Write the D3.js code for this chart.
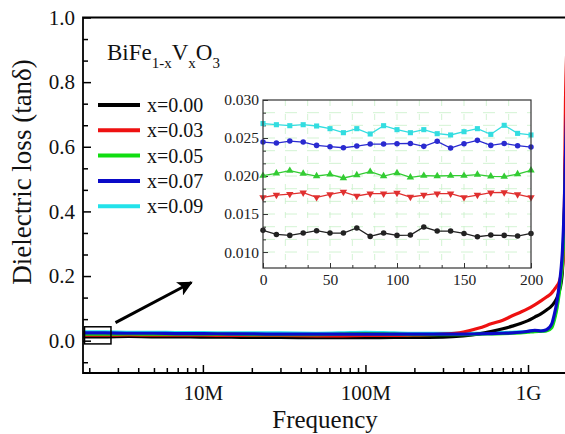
<!DOCTYPE html>
<html>
<head>
<meta charset="utf-8">
<script src="https://cdn.jsdelivr.net/npm/d3@7"></script>
<style>
  html, body { margin: 0; padding: 0; background: #ffffff; }
  svg { display: block; }
  svg text { font-family: "Liberation Serif", "Times New Roman", Times, "DejaVu Serif", serif; }
</style>
</head>
<body>
<svg id="chart" width="565" height="434"></svg>
<script>
// ---- Frequency sweep (MHz), shared by all compositions ----
const freqMHz = [1.83, 2.5, 3.5, 5, 7, 10, 15, 20, 30, 50, 70, 100, 150, 200, 300, 400, 500, 600, 700, 800,
                 900, 1000, 1100, 1200, 1300, 1400, 1450, 1500, 1550, 1600, 1630, 1650, 1680, 1700, 1750, 1800];

// ---- Dielectric loss tanδ for each V content ----
const lossX000 = [0.012, 0.012, 0.013, 0.012, 0.012, 0.011, 0.011, 0.010, 0.010, 0.009, 0.009, 0.009, 0.010, 0.010, 0.011, 0.015, 0.021, 0.029, 0.037, 0.045,
                  0.053, 0.062, 0.073, 0.083, 0.095, 0.108, 0.118, 0.130, 0.150, 0.180, 0.220, 0.280, 0.420, 0.560, 0.800, 1.000];
const lossX003 = [0.017, 0.017, 0.018, 0.017, 0.017, 0.017, 0.016, 0.016, 0.016, 0.015, 0.015, 0.016, 0.016, 0.017, 0.020, 0.027, 0.039, 0.053, 0.063, 0.077,
                  0.088, 0.099, 0.111, 0.123, 0.135, 0.148, 0.158, 0.168, 0.180, 0.205, 0.230, 0.260, 0.480, 0.740, 0.950, 1.050];
const lossX005 = [0.020, 0.020, 0.021, 0.020, 0.020, 0.020, 0.020, 0.019, 0.019, 0.019, 0.020, 0.022, 0.020, 0.019, 0.019, 0.019, 0.020, 0.021, 0.022, 0.023,
                  0.024, 0.026, 0.028, 0.029, 0.030, 0.040, 0.062, 0.095, 0.140, 0.195, 0.240, 0.290, 0.400, 0.520, 0.750, 1.000];
const lossX007 = [0.024, 0.024, 0.023, 0.023, 0.022, 0.022, 0.021, 0.021, 0.020, 0.020, 0.020, 0.020, 0.020, 0.020, 0.020, 0.020, 0.021, 0.022, 0.023, 0.024,
                  0.026, 0.029, 0.032, 0.030, 0.034, 0.052, 0.080, 0.115, 0.165, 0.225, 0.280, 0.340, 0.460, 0.580, 0.800, 1.000];
const lossX009 = [0.027, 0.027, 0.026, 0.026, 0.025, 0.025, 0.024, 0.024, 0.024, 0.023, 0.024, 0.026, 0.024, 0.023, 0.023, 0.023, 0.023, 0.024, 0.025, 0.026,
                  0.027, 0.029, 0.031, 0.030, 0.032, 0.045, 0.070, 0.100, 0.150, 0.205, 0.250, 0.300, 0.420, 0.540, 0.760, 1.000];

// ---- Low-frequency detail (inset) ----
const insetX = [0, 10, 20, 30, 40, 50, 60, 70, 80, 90, 100, 110, 120, 130, 140, 150, 160, 170, 180, 190, 200];
const insetX000 = [0.01285, 0.01232, 0.01219, 0.01250, 0.01281, 0.01250, 0.01250, 0.01316, 0.01206, 0.01250, 0.01219,
                   0.01223, 0.01329, 0.01276, 0.01276, 0.01245, 0.01201, 0.01223, 0.01219, 0.01210, 0.01245];
const insetX003 = [0.01720, 0.01750, 0.01763, 0.01781, 0.01720, 0.01759, 0.01790, 0.01737, 0.01768, 0.01768, 0.01777,
                   0.01724, 0.01750, 0.01768, 0.01768, 0.01720, 0.01750, 0.01781, 0.01785, 0.01759, 0.01720];
const insetX005 = [0.02004, 0.02035, 0.02070, 0.02031, 0.02000, 0.02022, 0.01974, 0.02013, 0.02057, 0.02000, 0.02040,
                   0.01982, 0.02004, 0.02000, 0.02004, 0.02004, 0.02018, 0.01996, 0.01991, 0.02026, 0.02075];
const insetX007 = [0.02447, 0.02434, 0.02460, 0.02447, 0.02403, 0.02386, 0.02372, 0.02394, 0.02420, 0.02420, 0.02425,
                   0.02429, 0.02390, 0.02456, 0.02368, 0.02425, 0.02469, 0.02403, 0.02429, 0.02399, 0.02381];
const insetX009 = [0.02690, 0.02675, 0.02662, 0.02675, 0.02658, 0.02623, 0.02570, 0.02623, 0.02553, 0.02662, 0.02610,
                   0.02570, 0.02610, 0.02557, 0.02540, 0.02583, 0.02623, 0.02548, 0.02667, 0.02561, 0.02540];

// ---- Labels and ticks ----
const seriesLabels = ["x=0.00", "x=0.03", "x=0.05", "x=0.07", "x=0.09"];
const freqTicksMHz = [10, 100, 1000];
const freqTickLabels = ["10M", "100M", "1G"];
const lossTicks = [0.0, 0.2, 0.4, 0.6, 0.8, 1.0];
const insetXTicks = [0, 50, 100, 150, 200];
const insetYTicks = [0.010, 0.015, 0.020, 0.025, 0.030];

// zoom box and pointer arrow (data coordinates)
const boxFreqMHz = [1.87, 2.72];
const boxLoss = [-0.010, 0.043];
const arrowFreqMHz = [2.9, 8.5];
const arrowLoss = [0.056, 0.180];

const colors = ["#000000", "#ee1111", "#11dd11", "#0a0ac8", "#22e2ea"];
const insetColors = ["#222222", "#e03030", "#33cc33", "#2a2ad0", "#33dde0"];
const markerTypes = [d3.symbolCircle, d3.symbolTriangle, d3.symbolTriangle, d3.symbolCircle, d3.symbolSquare];
const markerRotate = [0, 180, 0, 0, 0];

const mainSeries = [lossX000, lossX003, lossX005, lossX007, lossX009];
const insetSeries = [insetX000, insetX003, insetX005, insetX007, insetX009];

const serif = '"Liberation Serif", "Times New Roman", Times, "DejaVu Serif", serif';
const svg = d3.select("#chart");

// ---- Main plot scales ----
const plot = { left: 83, right: 569.5, top: 17.5, bottom: 373 };
const x = d3.scaleLog().domain([1.83, 1800]).range([plot.left, plot.right]);
const y = d3.scaleLinear().domain([-0.1, 1.0]).range([plot.bottom, plot.top]);

svg.append("defs").append("clipPath").attr("id", "plotClip")
  .append("rect").attr("x", plot.left).attr("y", plot.top)
  .attr("width", plot.right - plot.left).attr("height", plot.bottom - plot.top);

// ---- Curves (blue drawn last so it sits on top) ----
const line = d3.line().x((d, i) => x(freqMHz[i])).y(d => y(d)).curve(d3.curveMonotoneX);
const drawOrder = [4, 0, 1, 2, 3];
const curves = svg.append("g").attr("clip-path", "url(#plotClip)");
drawOrder.forEach(k => {
  curves.append("path")
    .datum(mainSeries[k])
    .attr("d", line)
    .attr("fill", "none")
    .attr("stroke", colors[k])
    .attr("stroke-width", 3.2)
    .attr("stroke-linejoin", "round");
});

// ---- Axes ----
const axisStroke = 1.8;
function styleAxis(g) {
  g.attr("font-family", serif);
  g.select(".domain").remove();
  g.selectAll(".tick line").attr("stroke", "#000").attr("stroke-width", 1.5);
  g.selectAll(".tick text").attr("fill", "#111").style("font-family", serif);
}

// left axis: major ticks with labels
svg.append("g").attr("transform", `translate(${plot.left},0)`)
  .call(d3.axisLeft(y).tickValues(lossTicks).tickFormat(d3.format(".1f")).tickSizeInner(-8).tickSizeOuter(0).tickPadding(8))
  .call(styleAxis)
  .call(g => g.selectAll(".tick text").attr("font-size", 21));

// left axis: minor ticks (two per major interval)
const lossMinor = d3.range(-1, 16).filter(i => i % 3 !== 0).map(i => i * 0.2 / 3);
svg.append("g").attr("transform", `translate(${plot.left},0)`)
  .call(d3.axisLeft(y).tickValues(lossMinor).tickFormat("").tickSizeInner(-5).tickSizeOuter(0))
  .call(styleAxis);

// bottom axis: decades
svg.append("g").attr("transform", `translate(0,${plot.bottom})`)
  .call(d3.axisBottom(x).tickValues(freqTicksMHz).tickFormat((d, i) => freqTickLabels[i]).tickSizeInner(-8).tickSizeOuter(0).tickPadding(12))
  .call(styleAxis)
  .call(g => g.selectAll(".tick text").attr("font-size", 21));

// bottom axis: log minor ticks
const freqMinor = [1, 10, 100].flatMap(b => d3.range(2, 10).map(m => m * b)).filter(f => f >= 1.83 && f <= 1800);
svg.append("g").attr("transform", `translate(0,${plot.bottom})`)
  .call(d3.axisBottom(x).tickValues(freqMinor).tickFormat("").tickSizeInner(-5).tickSizeOuter(0))
  .call(styleAxis);

// frame
svg.append("path")
  .attr("d", `M${plot.right},${plot.top}H${plot.left}V${plot.bottom}H${plot.right}Z`)
  .attr("fill", "none").attr("stroke", "#000").attr("stroke-width", axisStroke);

// axis titles
svg.append("text")
  .attr("x", 325).attr("y", 428)
  .attr("text-anchor", "middle").attr("font-size", 25).attr("fill", "#111")
  .text("Frequency");
svg.append("text")
  .attr("transform", "translate(31,172) rotate(-90)")
  .attr("text-anchor", "middle").attr("font-size", 27).attr("fill", "#111")
  .text("Dielectric loss (tanδ)");

// ---- Zoom box and arrow ----
svg.append("rect")
  .attr("x", x(boxFreqMHz[0])).attr("y", y(boxLoss[1]))
  .attr("width", x(boxFreqMHz[1]) - x(boxFreqMHz[0]))
  .attr("height", y(boxLoss[0]) - y(boxLoss[1]))
  .attr("fill", "none").attr("stroke", "#000").attr("stroke-width", 1.5);

svg.append("defs").append("marker")
  .attr("id", "arrowHead").attr("viewBox", "0 0 10 10")
  .attr("refX", 9).attr("refY", 5)
  .attr("markerWidth", 5).attr("markerHeight", 5)
  .attr("orient", "auto")
  .append("path").attr("d", "M0,0L10,5L0,10L2.5,5Z").attr("fill", "#000");

svg.append("line")
  .attr("x1", x(arrowFreqMHz[0])).attr("y1", y(arrowLoss[0]))
  .attr("x2", x(arrowFreqMHz[1])).attr("y2", y(arrowLoss[1]))
  .attr("stroke", "#000").attr("stroke-width", 3)
  .attr("marker-end", "url(#arrowHead)");

// ---- Composition title ----
const title = svg.append("text").attr("x", 107).attr("y", 60).attr("font-size", 23).attr("fill", "#111");
title.append("tspan").text("BiFe");
title.append("tspan").attr("font-size", 15).attr("dy", 8).text("1-x");
title.append("tspan").attr("dy", -8).text("V");
title.append("tspan").attr("font-size", 15).attr("dy", 8).text("x");
title.append("tspan").attr("dy", -8).text("O");
title.append("tspan").attr("font-size", 15).attr("dy", 8).text("3");

// ---- Legend ----
const legend = svg.append("g");
seriesLabels.forEach((lab, i) => {
  const ly = 105 + i * 25.3;
  legend.append("line").attr("x1", 98).attr("x2", 140).attr("y1", ly).attr("y2", ly)
    .attr("stroke", colors[i]).attr("stroke-width", 4);
  legend.append("text").attr("x", 147).attr("y", ly).attr("dy", "0.35em")
    .attr("font-size", 20).attr("fill", "#111").text(lab);
});

// ---- Inset ----
const ins = { left: 263, right: 531, top: 100, bottom: 268 };
const ix = d3.scaleLinear().domain([0, 200]).range([ins.left, ins.right]);
const iy = d3.scaleLinear().domain([0.0079, 0.030]).range([ins.bottom, ins.top]);

const inset = svg.append("g");
inset.append("rect").attr("x", ins.left).attr("y", ins.top)
  .attr("width", ins.right - ins.left).attr("height", ins.bottom - ins.top)
  .attr("fill", "#ffffff");

// faint dashed grid at every tick
const insetXGrid = d3.range(0, 201, 50 / 3).filter(v => v > 0.5 && v < 199.5);
const insetYGrid = d3.range(0.010, 0.0301, 0.005 / 3).filter(v => v < 0.0299);
inset.append("g").selectAll("line").data(insetXGrid).join("line")
  .attr("x1", d => ix(d)).attr("x2", d => ix(d)).attr("y1", ins.top).attr("y2", ins.bottom)
  .attr("stroke", "#c8f0c8").attr("stroke-width", 0.8).attr("stroke-dasharray", "6,8");
inset.append("g").selectAll("line").data(insetYGrid).join("line")
  .attr("x1", ins.left).attr("x2", ins.right).attr("y1", d => iy(d)).attr("y2", d => iy(d))
  .attr("stroke", "#c8f0c8").attr("stroke-width", 0.8).attr("stroke-dasharray", "12,10");

// inset axes
function styleInset(g) {
  g.attr("font-family", serif);
  g.select(".domain").remove();
  g.selectAll(".tick line").attr("stroke", "#333").attr("stroke-width", 1);
  g.selectAll(".tick text").attr("fill", "#222").attr("font-size", 15.5).style("font-family", serif);
}
inset.append("g").attr("transform", `translate(${ins.left},0)`)
  .call(d3.axisLeft(iy).tickValues(insetYTicks).tickFormat(d3.format(".3f")).tickSizeInner(-5).tickSizeOuter(0).tickPadding(4))
  .call(styleInset);
inset.append("g").attr("transform", `translate(${ins.left},0)`)
  .call(d3.axisLeft(iy).tickValues(insetYGrid.filter(v => Math.abs(Math.round(v / 0.005) * 0.005 - v) > 1e-5)).tickFormat("").tickSizeInner(-3).tickSizeOuter(0))
  .call(styleInset);
inset.append("g").attr("transform", `translate(0,${ins.bottom})`)
  .call(d3.axisBottom(ix).tickValues(insetXTicks).tickSizeInner(-5).tickSizeOuter(0).tickPadding(6))
  .call(styleInset);
inset.append("g").attr("transform", `translate(0,${ins.bottom})`)
  .call(d3.axisBottom(ix).tickValues(insetXGrid.filter(v => Math.abs(v % 50) > 1 && Math.abs(v % 50) < 49)).tickFormat("").tickSizeInner(-3).tickSizeOuter(0))
  .call(styleInset);

// inset series
const iline = d3.line().x((d, i) => ix(insetX[i])).y(d => iy(d));
insetSeries.forEach((vals, k) => {
  inset.append("path").datum(vals).attr("d", iline)
    .attr("fill", "none").attr("stroke", insetColors[k]).attr("stroke-width", 1.3);
  const sym = d3.symbol().type(markerTypes[k]).size(markerTypes[k] === d3.symbolSquare ? 26 : 24);
  inset.append("g").selectAll("path").data(vals).join("path")
    .attr("d", sym)
    .attr("transform", (d, i) => `translate(${ix(insetX[i])},${iy(d)}) rotate(${markerRotate[k]})`)
    .attr("fill", insetColors[k]);
});

inset.append("rect").attr("x", ins.left).attr("y", ins.top)
  .attr("width", ins.right - ins.left).attr("height", ins.bottom - ins.top)
  .attr("fill", "none").attr("stroke", "#333").attr("stroke-width", 1.2);
</script>
</body>
</html>
